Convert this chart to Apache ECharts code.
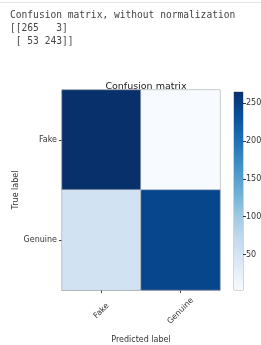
<!DOCTYPE html>
<html>
<head>
    <meta charset="utf-8">
    <script type="text/javascript" src="https://cdn.jsdelivr.net/npm/echarts@6/dist/echarts.min.js"></script>
</head>
<body style="margin:0; background-color:#fff">
<div id="main" style="width:261px;height:345px;"></div>
<script type="text/javascript">
    // confusion matrix values
    var predicted  = ['Fake', 'Genuine'];
    var trueLabels = ['Genuine', 'Fake'];   // bottom to top
    var rowFake    = [265, 3];
    var rowGenuine = [53, 243];
    var cbTicks    = [50, 100, 150, 200, 250];
    var vMin = 3, vMax = 265;
    var blues = ['#f7fbff', '#deebf7', '#c6dbef', '#9ecae1', '#6baed6', '#4292c6', '#2171b5', '#08519c', '#08306b'];

    var cells = [];
    rowFake.forEach(function (v, i) { cells.push([i, 1, v]); });
    rowGenuine.forEach(function (v, i) { cells.push([i, 0, v]); });

    var stops = blues.map(function (c, i) {
        return { offset: 1 - i / (blues.length - 1), color: c };
    });

    var txt = { fontFamily: 'DejaVu Sans', fontSize: 8, color: '#333' };
    var mono = { fontFamily: 'DejaVu Sans Mono', fontSize: 9.6, fill: '#444' };

    var myChart = echarts.init(document.getElementById('main'));
    var option = {
        animation: false,
        graphic: [
            { type: 'rect', shape: { x: 0, y: 2, width: 261, height: 1 }, style: { fill: '#e4e4e4' } },
            { type: 'text', left: 10, top: 10, style: Object.assign({ text: 'Confusion matrix, without normalization' }, mono) },
            { type: 'text', left: 10, top: 23, style: Object.assign({ text: '[[265   3]' }, mono) },
            { type: 'text', left: 10, top: 36, style: Object.assign({ text: ' [ 53 243]]' }, mono) }
        ],
        title: {
            text: 'Confusion matrix',
            left: 141, top: 77, textAlign: 'center',
            textStyle: { fontFamily: 'DejaVu Sans', fontSize: 9.5, fontWeight: 'normal', color: '#222' }
        },
        grid: [
            { left: 62, top: 90, width: 158, height: 200, outerBoundsMode: 'none', containLabel: false,
              show: true, borderColor: '#aaa', borderWidth: 1, backgroundColor: 'transparent' },
            { left: 234, top: 92, width: 9, height: 198, outerBoundsMode: 'none', containLabel: false,
              show: true, borderColor: '#aaa', borderWidth: 1 }
        ],
        xAxis: [
            {
                type: 'category', data: predicted, gridIndex: 0, position: 'bottom',
                name: 'Predicted label', nameLocation: 'middle', nameGap: 46, nameMoveOverlap: false,
                nameTextStyle: txt,
                axisLine: { show: true, lineStyle: { color: '#aaa' } },
                axisTick: { show: true, alignWithLabel: true, length: 3, lineStyle: { color: '#444', width: 1 } },
                axisLabel: Object.assign({ rotate: 45, margin: 21, align: 'center', verticalAlign: 'middle' }, txt),
                splitLine: { show: false }
            },
            { type: 'category', data: ['cb'], gridIndex: 1, show: false }
        ],
        yAxis: [
            {
                type: 'category', data: trueLabels, gridIndex: 0,
                name: 'True label', nameLocation: 'middle', nameGap: 42, nameRotate: 90, nameMoveOverlap: false,
                nameTextStyle: txt,
                axisLine: { show: true, lineStyle: { color: '#aaa' } },
                axisTick: { show: true, alignWithLabel: true, length: 3, lineStyle: { color: '#444', width: 1 } },
                axisLabel: Object.assign({ margin: 5 }, txt),
                splitLine: { show: false }
            },
            {
                type: 'value', gridIndex: 1, position: 'right', min: vMin, max: vMax,
                axisLine: { show: false },
                axisTick: { show: true, length: 3, customValues: cbTicks, lineStyle: { color: '#333' } },
                axisLabel: Object.assign({ margin: 3, customValues: cbTicks }, txt),
                splitLine: { show: false }
            }
        ],
        visualMap: {
            show: false, type: 'continuous', seriesIndex: 0,
            min: vMin, max: vMax,
            inRange: { color: blues }
        },
        series: [
            {
                type: 'heatmap', data: cells, xAxisIndex: 0, yAxisIndex: 0,
                itemStyle: { borderColor: '#bbb', borderWidth: 0.5 },
                label: { show: false }
            },
            {
                type: 'bar', data: [vMax], xAxisIndex: 1, yAxisIndex: 1,
                barWidth: '100%', silent: true,
                itemStyle: { color: new echarts.graphic.LinearGradient(0, 0, 0, 1, stops) }
            }
        ]
    };
    myChart.setOption(option);
</script>
</body>
</html>
